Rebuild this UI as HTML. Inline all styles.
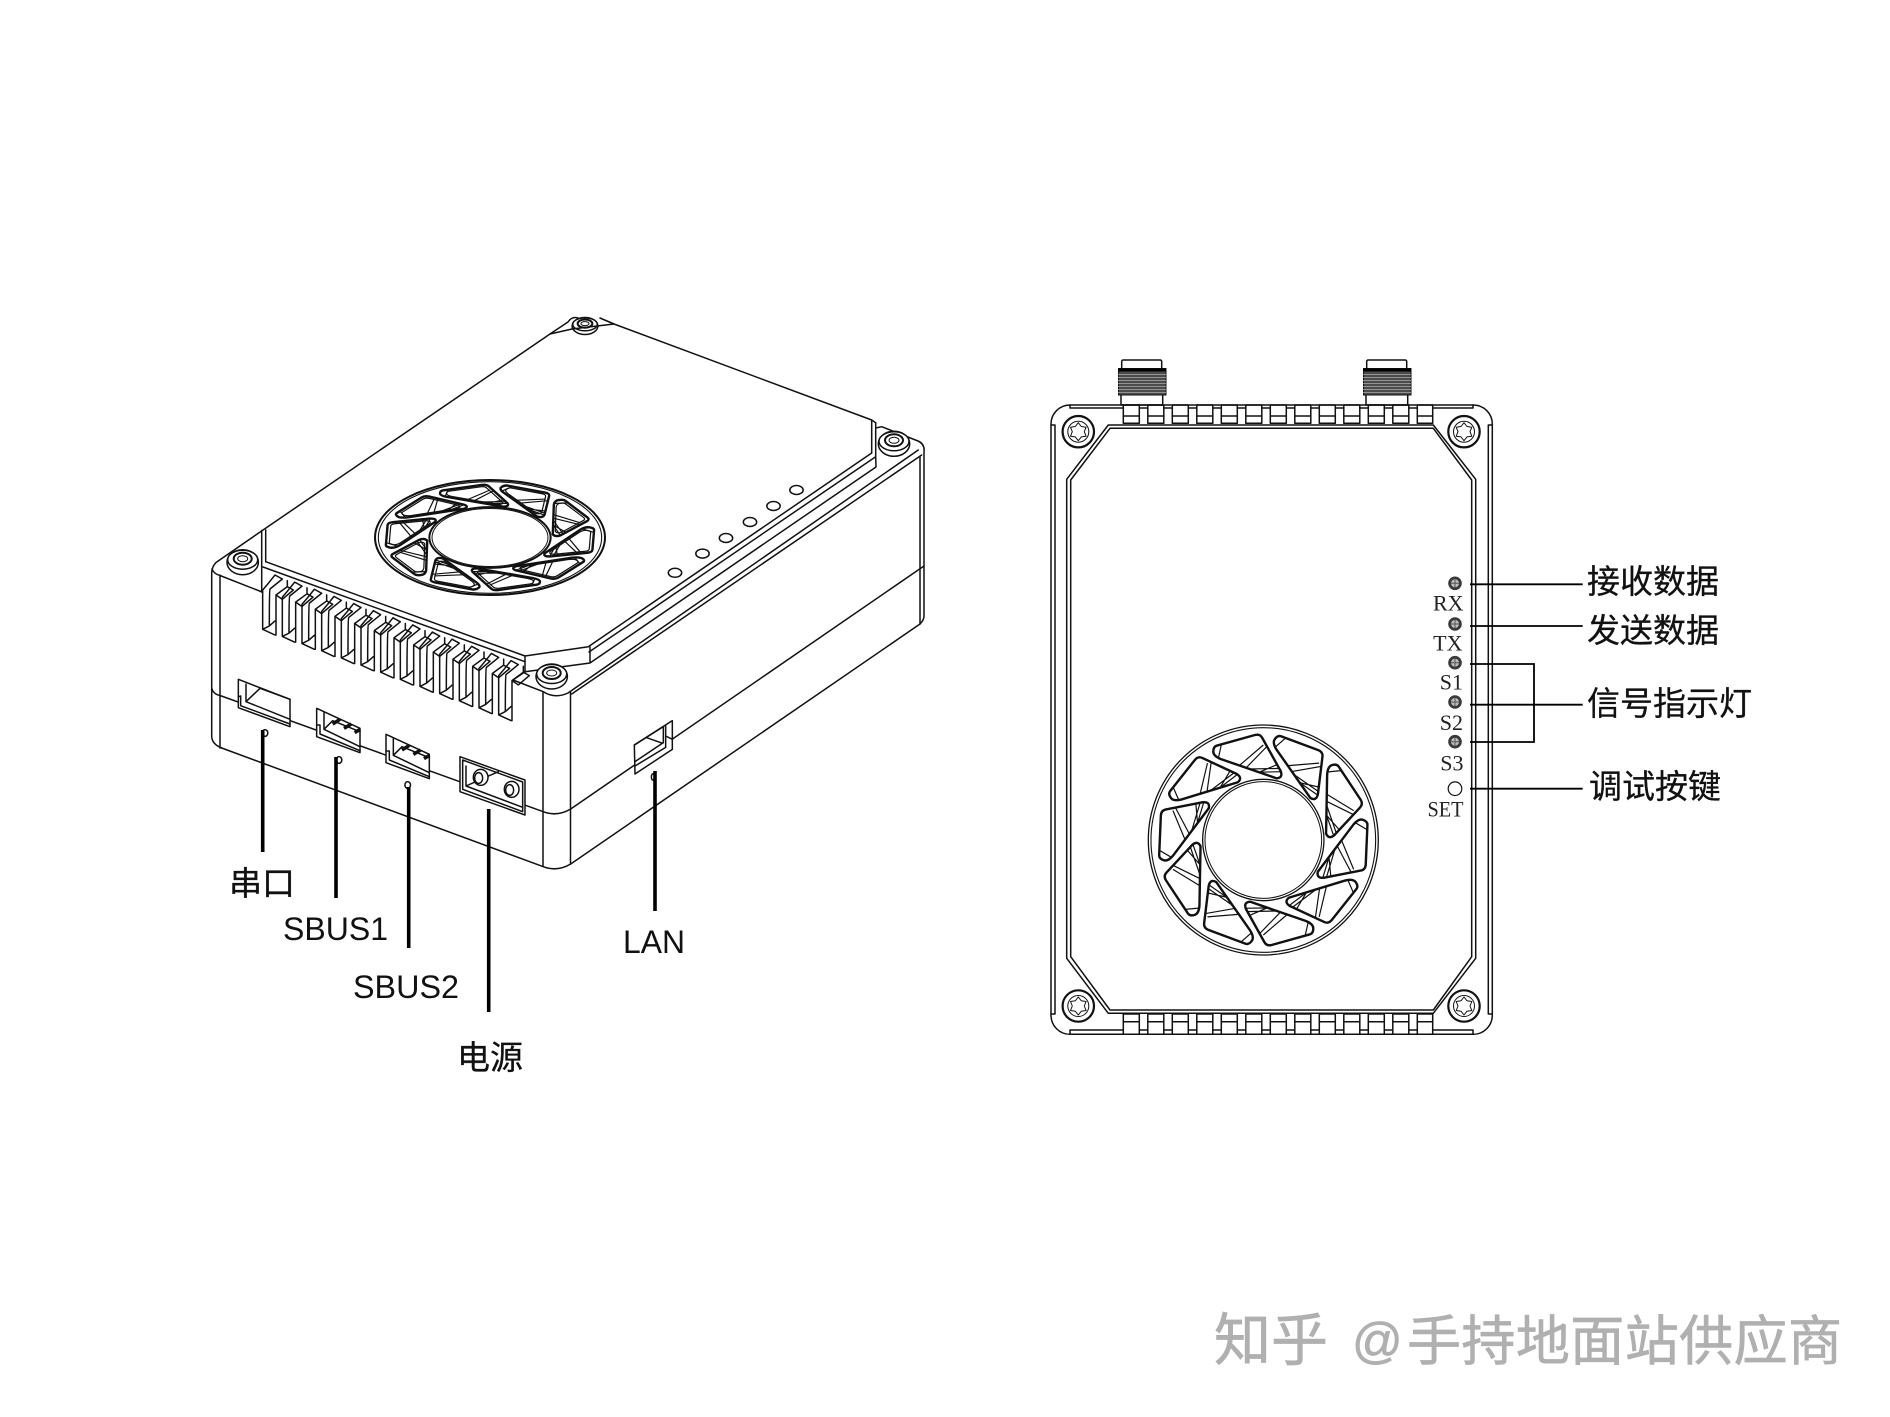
<!DOCTYPE html>
<html lang="zh">
<head>
<meta charset="utf-8">
<title>Diagram</title>
<style>
html,body{margin:0;padding:0;background:#fff}
svg{display:block}
svg *{vector-effect:non-scaling-stroke}
.l{fill:none;stroke:#111;stroke-width:1.5;stroke-linejoin:round;stroke-linecap:round}
.t{fill:none;stroke:#111;stroke-width:1.1}
.f{fill:#fff;stroke:#111;stroke-width:1.5;stroke-linejoin:round}
.lead{stroke:#000;stroke-width:3.6;fill:none}
.rl{stroke:#000;stroke-width:1.8;fill:none}
.cjk{font-family:"Liberation Sans","Noto Sans CJK SC",sans-serif;font-size:33px;fill:#111;stroke:#111;stroke-width:.3}
.sans{font-family:"Liberation Sans",sans-serif;font-size:32px;fill:#111}
.serif{font-family:"Liberation Serif",serif;font-size:22px;fill:#222}
.wm{font-family:"Liberation Sans","Noto Sans CJK SC",sans-serif;fill:#b0b0b0;stroke:#b0b0b0;stroke-width:.7}
.w{fill:none;stroke:#111;stroke-width:2.4;stroke-linejoin:round}
.bl{fill:none;stroke:#111;stroke-width:1.2}
</style>
</head>
<body>
<svg xmlns="http://www.w3.org/2000/svg" width="1890" height="1417" viewBox="0 0 1890 1417">
<defs>
  <path id="wp" d="M-140,-283 L-25,-315 Q-10,-319 -3,-306 L52,-207 Q60,-187 40,-185 L-128,-243 Q-150,-252 -150,-265 Q-150,-280 -140,-283Z"/>
  <clipPath id="wc"><use href="#wp"/></clipPath>
  <g id="win">
    <g clip-path="url(#wc)">
      <path class="bl" d="M0,-285 L-70,-225 M15,-285 L-50,-218 M-40,-213 L60,-215 M-35,-203 L60,-205 M-125,-290 L-135,-245 M-20,-200 L50,-230"/>
    </g>
    <use href="#wp" class="w"/>
  </g>
  <g id="wins">
    <use href="#win"/>
    <use href="#win" transform="rotate(36)"/>
    <use href="#win" transform="rotate(72)"/>
    <use href="#win" transform="rotate(108)"/>
    <use href="#win" transform="rotate(144)"/>
    <use href="#win" transform="rotate(180)"/>
    <use href="#win" transform="rotate(216)"/>
    <use href="#win" transform="rotate(252)"/>
    <use href="#win" transform="rotate(288)"/>
    <use href="#win" transform="rotate(324)"/>
  </g>
  <g id="wi"><use href="#wp" class="bl" transform="translate(-40,-255) scale(.82) translate(40,255)"/></g>
  <g id="winsi">
    <use href="#wi"/>
    <use href="#wi" transform="rotate(36)"/>
    <use href="#wi" transform="rotate(72)"/>
    <use href="#wi" transform="rotate(108)"/>
    <use href="#wi" transform="rotate(144)"/>
    <use href="#wi" transform="rotate(180)"/>
    <use href="#wi" transform="rotate(216)"/>
    <use href="#wi" transform="rotate(252)"/>
    <use href="#wi" transform="rotate(288)"/>
    <use href="#wi" transform="rotate(324)"/>
  </g>
  <g id="isoscrew">
    <ellipse class="f" rx="15.7" ry="12.5" cy="1.5" stroke-width="1.8"/>
    <ellipse class="f" rx="15" ry="9.5" cy="-1"/>
    <ellipse rx="9" ry="6" cy="-2" fill="#fff" stroke="#111" stroke-width="2"/>
    <ellipse rx="5" ry="3" cy="-2" fill="none" stroke="#111" stroke-width="1"/>
  </g>
  <g id="fin">
    <path class="l" d="M188,268 V150 L205,130 L225,105 L247,117 M247,117 L210,147 Q208,150 208,258 L188,268 L225,285 L228,285 V165 L262,140 L280,150 M228,165 L247,178 L280,150 M262,122 V140 M208,258 L225,243" fill="none"/>
  </g>
  <g id="sb">
    <polygon class="f" points="320,145 450,205 450,278 320,230"/>
    <path class="l" d="M342,158 V208 L450,260 M320,195 L330,195 V222 L450,272 M342,208 L368,182 L450,215"/>
    <path d="M368,192 L390,178 M402,205 L424,192 M434,218 L450,208" stroke="#111" stroke-width="3.5" fill="none"/>
  </g>
  <g id="fs">
    <circle r="15.7" fill="#fff" stroke="#111" stroke-width="2.2"/>
    <circle r="10.5" fill="none" stroke="#111" stroke-width="1"/>
    <path d="M0,-9 3,-5.2 7.8,-4.5 6,0 7.8,4.5 3,5.2 0,9 -3,5.2 -7.8,4.5 -6,0 -7.8,-4.5 -3,-5.2Z" fill="none" stroke="#111" stroke-width="1" stroke-linejoin="round"/>
  </g>
  <g id="ant">
    <rect class="f" x="1121.7" y="360" width="40" height="9.5" rx="1.5"/>
    <rect class="f" x="1121" y="394" width="41.7" height="11"/>
    <rect x="1118.5" y="368.5" width="47.5" height="26.5" fill="#4c4c4c" stroke="#111" stroke-width="1"/>
    <rect x="1118.5" y="368.5" width="47.5" height="3" fill="#000"/>
    <path d="M1118,374.5H1166M1118,377.5H1166M1118,380.5H1166M1118,383.5H1166M1118,386.5H1166M1118,389.5H1166M1118,392.5H1166" stroke="#aaa" stroke-width=".7" fill="none"/>
  </g>
  <g id="led">
    <circle r="6.8" fill="#3a3a3a"/>
    <circle r="4" fill="#bdbdbd"/>
    <path d="M-4,0H4M0,-4V4" stroke="#555" stroke-width="1" fill="none"/>
  </g>
  <g id="ts">
    <rect class="l" x="1123.3" y="405" width="16" height="18.3"/>
    <path class="l" d="M1123.3,416H1139.3 M1139.3,408H1147.8"/>
  </g>
  <g id="bs">
    <rect class="l" x="1123.3" y="1014" width="16" height="20.3"/>
    <path class="l" d="M1123.3,1021.7H1139.3 M1139.3,1030H1147.8"/>
  </g>
</defs>

<rect width="1890" height="1417" fill="#fff"/>

<!-- LEFT DEVICE -->
<use href="#isoscrew" transform="translate(585,325) scale(.82,.68)"/>
<path class="l" d="M221.7,748 Q211.7,744 211.7,736 V573 Q211.7,567 216,562.5 L263,530 L550,334 L568,322 Q572,316 578,318 M600,318 L614,324 L871.7,420 L875.7,422.7"/>
<path class="l" d="M550,334 L572,329 L614,324"/>
<path class="l" d="M875.7,428 L881.7,426.7 L918,441 Q925,444 924,452 V616 Q924,620 920,624 L570.7,864 Q557,872 543.3,866.7 L221.7,748"/>
<path class="l" d="M212,569 Q214,574 220,575.5 L262,592 M220,575 V748"/>
<path class="l" d="M261.7,530.5 V592 M265.7,530 V561.7"/>
<path class="l" d="M871.7,420 V453 M875.7,422.7 V456.7"/>
<path class="l" d="M265.7,561.7 L525,656 L588.3,646.7 L871.7,453"/>
<path class="l" d="M263,567 L525,661.7"/>
<path class="l" d="M525,656 V671.7 L590,663 V647 M590,663 L876,467 L875.7,456.7 M589,652 L875.7,456.7"/>
<path class="l" d="M513,680 L543.3,691.7 Q555,699 568,693 L918.3,450 M571.7,694 L921.7,455"/>
<path class="l" d="M525,671.7 L513,680"/>
<path class="l" d="M543,692 V866 M570.5,692 V864 M920,457 V624"/>
<path class="l" d="M211.7,688 Q213,694 220,695.5 L543.3,811.7 Q557,817 570.7,809 L924,566"/>

<g transform="translate(200,540) scale(.33333)">
  <use href="#fin"/>
  <use href="#fin" transform="translate(59,21.4)"/>
  <use href="#fin" transform="translate(118,42.8)"/>
  <use href="#fin" transform="translate(177,64.2)"/>
  <use href="#fin" transform="translate(236,85.6)"/>
  <use href="#fin" transform="translate(295,107)"/>
  <use href="#fin" transform="translate(354,128.4)"/>
  <use href="#fin" transform="translate(413,149.8)"/>
  <use href="#fin" transform="translate(472,171.2)"/>
  <use href="#fin" transform="translate(531,192.6)"/>
  <use href="#fin" transform="translate(590,214)"/>
  <use href="#fin" transform="translate(649,235.4)"/>
  <use href="#fin" transform="translate(708,256.8)"/>
</g>

<!-- iso fan -->
<g transform="matrix(.3333,0,0,.1667,490,537.5)">
  <circle r="345" fill="#fff" stroke="#111" stroke-width="2"/>
  <circle r="335" fill="none" stroke="#111" stroke-width="1.1"/>
  <use href="#wins"/>
  <use href="#winsi"/>
  <circle r="182" fill="#fff" stroke="#111" stroke-width="2"/>
  <circle r="174" fill="none" stroke="#111" stroke-width="1"/>
</g>

<!-- iso LEDs -->
<g class="l">
  <ellipse cx="675" cy="572.8" rx="6.7" ry="4.5"/>
  <ellipse cx="702.5" cy="553.6" rx="6.7" ry="4.5"/>
  <ellipse cx="726" cy="538" rx="6.7" ry="4.5"/>
  <ellipse cx="750" cy="522" rx="6.7" ry="4.5"/>
  <ellipse cx="773.5" cy="506" rx="6.7" ry="4.5"/>
  <ellipse cx="796.5" cy="490" rx="6.7" ry="4.5"/>
</g>

<use href="#isoscrew" transform="translate(242.7,560.7)"/>
<use href="#isoscrew" transform="translate(551.7,675)"/>
<use href="#isoscrew" transform="translate(894,442.3)"/>

<!-- ports -->
<g transform="translate(210,660) scale(.33333)">
  <polygon class="f" points="85,58 240,118 240,200 85,143"/>
  <path class="l" d="M108,72 V125 L240,178 M85,110 L92,108 V137 L240,192 M108,125 L150,85 L240,118"/>
  <use href="#sb"/>
  <use href="#sb" transform="translate(208,78)"/>
  <polygon class="f" points="750,290 945,360 945,465 750,395"/>
  <polygon class="l" points="758,300 938,366 938,455 758,388"/>
  <path class="l" d="M768,378 L865,335 M768,318 V378 L938,442"/>
  <ellipse class="f" cx="812" cy="352" rx="22" ry="24"/>
  <ellipse class="l" cx="806" cy="354" rx="12" ry="16"/>
  <ellipse class="f" cx="905" cy="388" rx="22" ry="24"/>
  <ellipse class="l" cx="899" cy="390" rx="12" ry="16"/>
</g>
<g transform="translate(600,700) scale(.33333)">
  <polygon class="f" points="103,135 217,62 217,148 105,222"/>
  <path class="l" d="M103,135 L190,80 V128 L105,185 M140,113 L188,130 M197,75 V142 L105,198 M197,108 L217,118"/>
</g>

<!-- left small holes -->
<ellipse class="l" cx="265" cy="733" rx="2.8" ry="3.4"/>
<ellipse class="l" cx="339" cy="760" rx="2.8" ry="3.4"/>
<ellipse class="l" cx="407.7" cy="785" rx="2.8" ry="3.4"/>
<ellipse class="l" cx="653" cy="777" rx="1.6" ry="3.2"/>

<!-- left leaders -->
<path class="lead" d="M262.7,730V852 M336,757V898 M408.7,787V948 M488.7,809V1012 M655,771V911"/>

<text class="cjk" x="229" y="895">串口</text>
<text class="sans" x="283" y="940" textLength="105" lengthAdjust="spacingAndGlyphs">SBUS1</text>
<text class="sans" x="353" y="998" textLength="106" lengthAdjust="spacingAndGlyphs">SBUS2</text>
<text class="cjk" x="457" y="1069">电源</text>
<text class="sans" x="623" y="953" textLength="62" lengthAdjust="spacingAndGlyphs">LAN</text>

<!-- RIGHT DEVICE -->
<use href="#ant"/>
<use href="#ant" transform="translate(245,0)"/>

<rect class="l" x="1051" y="405" width="441.3" height="629.3" rx="19" ry="19" stroke-width="1.8"/>
<path class="l" d="M1055,425 V1014 M1488.3,425 V1014 M1070,408 H1123.3 M1432.7,408 H1473 M1070,1030 H1123.3 M1432.7,1030 H1473 M1051,425 H1055 M1488.3,425 H1492.3 M1051,1014 H1055 M1488.3,1014 H1492.3 M1070,405 V408 M1473,405 V408 M1070,1030 V1034 M1473,1030 V1034"/>
<path class="l" d="M1108.3,425 H1433.3 L1475.7,479.3 V958.3 L1433.3,1013.3 H1108.3 L1066.7,958.3 V479.3 Z"/>
<path class="l" d="M1110,428.3 H1433.3 L1471.7,480 V956.7 L1433.3,1010 H1110 L1070.7,956.7 V480 Z"/>

<g id="topband">
  <use href="#ts"/>
  <use href="#ts" transform="translate(24.5,0)"/>
  <use href="#ts" transform="translate(49,0)"/>
  <use href="#ts" transform="translate(73.5,0)"/>
  <use href="#ts" transform="translate(98,0)"/>
  <use href="#ts" transform="translate(122.5,0)"/>
  <use href="#ts" transform="translate(147,0)"/>
  <use href="#ts" transform="translate(171.5,0)"/>
  <use href="#ts" transform="translate(196,0)"/>
  <use href="#ts" transform="translate(220.5,0)"/>
  <use href="#ts" transform="translate(245,0)"/>
  <use href="#ts" transform="translate(269.5,0)"/>
  <rect class="l" x="1417.3" y="405" width="15.4" height="18.3"/>
  <path class="l" d="M1417.3,416H1432.7"/>
</g>
<g id="botband">
  <use href="#bs"/>
  <use href="#bs" transform="translate(24.5,0)"/>
  <use href="#bs" transform="translate(49,0)"/>
  <use href="#bs" transform="translate(73.5,0)"/>
  <use href="#bs" transform="translate(98,0)"/>
  <use href="#bs" transform="translate(122.5,0)"/>
  <use href="#bs" transform="translate(147,0)"/>
  <use href="#bs" transform="translate(171.5,0)"/>
  <use href="#bs" transform="translate(196,0)"/>
  <use href="#bs" transform="translate(220.5,0)"/>
  <use href="#bs" transform="translate(245,0)"/>
  <use href="#bs" transform="translate(269.5,0)"/>
  <rect class="l" x="1417.3" y="1014" width="15.4" height="20.3"/>
  <path class="l" d="M1417.3,1021.7H1432.7"/>
</g>

<use href="#fs" transform="translate(1078.3,431.7)"/>
<use href="#fs" transform="translate(1464,431.7)"/>
<use href="#fs" transform="translate(1078.3,1006)"/>
<use href="#fs" transform="translate(1464,1006)"/>

<!-- flat fan -->
<g transform="matrix(.33333,0,0,.33333,1263.3,840)">
  <circle r="345" fill="#fff" stroke="#111" stroke-width="1.3"/>
  <circle r="337" fill="none" stroke="#111" stroke-width="1.1"/>
  <use href="#wins"/>
  <circle r="182" fill="#fff" stroke="#111" stroke-width="1.3"/>
  <circle r="175" fill="none" stroke="#111" stroke-width="1"/>
</g>

<!-- LEDs -->
<use href="#led" transform="translate(1455,583.3)"/>
<use href="#led" transform="translate(1455,624)"/>
<use href="#led" transform="translate(1455,662.7)"/>
<use href="#led" transform="translate(1455,702)"/>
<use href="#led" transform="translate(1455,741.7)"/>
<circle cx="1455" cy="788.7" r="6.8" fill="#fff" stroke="#111" stroke-width="1.2"/>

<text class="serif" x="1463.5" y="610.7" text-anchor="end">RX</text>
<text class="serif" x="1462.5" y="650.7" text-anchor="end">TX</text>
<text class="serif" x="1463" y="689.3" text-anchor="end">S1</text>
<text class="serif" x="1463" y="730" text-anchor="end">S2</text>
<text class="serif" x="1463.5" y="770.7" text-anchor="end">S3</text>
<text class="serif" x="1463.5" y="816.7" text-anchor="end" textLength="36" lengthAdjust="spacingAndGlyphs">SET</text>

<path class="rl" d="M1470,584.3H1582.7 M1470,626H1582.7 M1470,664H1534V742H1470 M1470,704.7H1582.7 M1470,788.7H1582.7"/>

<text class="cjk" x="1587" y="593">接收数据</text>
<text class="cjk" x="1587" y="642">发送数据</text>
<text class="cjk" x="1587" y="715">信号指示灯</text>
<text class="cjk" x="1589" y="798">调试按键</text>

<!-- watermark -->
<text class="wm" x="1214" y="1360" style="font-size:57px">知乎</text>
<text class="wm" x="1352" y="1358" style="font-size:50px;font-family:'Liberation Sans',sans-serif">@</text>
<text class="wm" x="1407" y="1360" style="font-size:54px" textLength="435" lengthAdjust="spacing">手持地面站供应商</text>
</svg>
</body>
</html>
